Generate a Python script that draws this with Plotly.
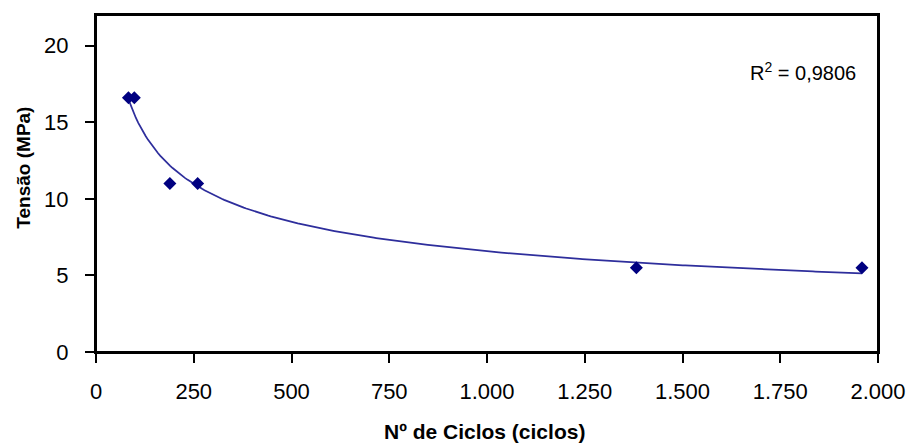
import numpy as np
import plotly.graph_objects as go

ciclos = [83, 98, 189, 260, 1382, 1959]
tensao = [16.6, 16.6, 11.0, 11.0, 5.5, 5.5]
x_ticks = [0, 250, 500, 750, 1000, 1250, 1500, 1750, 2000]
y_ticks = [0, 5, 10, 15, 20]
r2_text = "R<sup>2</sup> = 0,9806"
x_title = "<b>Nº de Ciclos (ciclos)</b>"
y_title = "<b>Tensão (MPa)</b>"

# Power trendline fitted (least squares in log-log) from the data, as Excel does
lx = np.log(ciclos)
ly = np.log(tensao)
b, ln_a = np.polyfit(lx, ly, 1)
xf = np.linspace(min(ciclos), max(ciclos), 300)
yf = np.exp(ln_a) * xf ** b

fig = go.Figure()
fig.add_trace(go.Scatter(x=xf, y=yf, mode="lines",
                         line=dict(color="#2E2E9C", width=1.75),
                         hoverinfo="skip", showlegend=False))
fig.add_trace(go.Scatter(x=ciclos, y=tensao, mode="markers",
                         marker=dict(symbol="diamond", size=10, color="#000080"),
                         showlegend=False))

font = "Liberation Sans, Arial, sans-serif"
fig.update_layout(
    width=918, height=446,
    margin=dict(l=96, r=33, t=15, b=94),
    paper_bgcolor="white", plot_bgcolor="white",
    separators=",.",
    font=dict(family=font, size=22, color="black"),
    xaxis=dict(range=[0, 2000], tickvals=x_ticks, tickformat=",.0f",
               showgrid=False, zeroline=False, showline=True, mirror=True,
               linecolor="black", linewidth=2, ticks="outside", ticklen=9,
               tickwidth=1.5, tickcolor="black", tickfont=dict(size=22),
               ticklabelstandoff=10),
    yaxis=dict(range=[0, 22], tickvals=y_ticks,
               showgrid=False, zeroline=False, showline=True, mirror=True,
               linecolor="black", linewidth=2, ticks="outside", ticklen=9,
               tickwidth=1.5, tickcolor="black", tickfont=dict(size=22),
               ticklabelstandoff=12),
    shapes=[dict(type="rect", xref="paper", yref="paper", x0=0, y0=0, x1=1, y1=1,
                 line=dict(color="black", width=2), fillcolor="rgba(0,0,0,0)",
                 layer="above")],
    annotations=[
        dict(x=865, y=71.5, text=r2_text,
             showarrow=False, xanchor="right", yanchor="middle",
             font=dict(size=20, family=font)),
        dict(x=488, y=431, text=x_title, showarrow=False,
             xanchor="center", yanchor="middle", font=dict(size=21, family=font)),
        dict(x=22, y=168, text=y_title, showarrow=False, textangle=-90,
             xanchor="center", yanchor="middle", font=dict(size=19, family=font)),
    ],
)

# convert pixel positions of annotations into paper coordinates
L, R, T, B, W, H = 96, 33, 15, 94, 918, 446
pw, ph = W - L - R, H - T - B
for ann in fig.layout.annotations:
    ann.xref = "paper"
    ann.yref = "paper"
    ann.x = (ann.x - L) / pw
    ann.y = 1 - (ann.y - T) / ph

fig.write_html("out.html", config={"displayModeBar": False},
               post_script="document.body.style.margin='0';")
